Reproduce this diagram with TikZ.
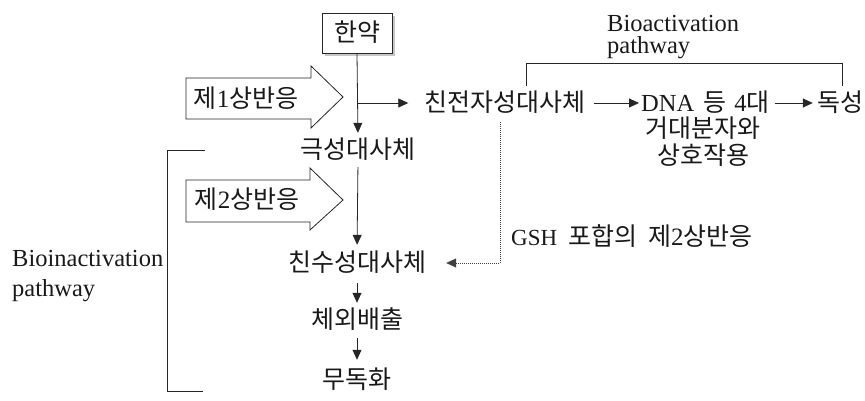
\documentclass[tikz,border=0pt]{standalone}
\usepackage{fontspec}
\setmainfont{Liberation Serif}
\newfontfamily\kr{Noto Sans CJK KR}
\newfontfamily\lat{Liberation Serif}
\newcommand\latb{\lat\fontsize{24.5}{26}\selectfont}
\usetikzlibrary{arrows.meta,shadows}
\tikzset{
  ln/.style={draw=black!85, line width=0.8pt},
  arr/.style={ln, -{Triangle[length=10pt,width=9pt]}},
  dotarr/.style={draw=black!75, line width=0.8pt, dash pattern=on 0.8pt off 1.2pt, -{Triangle[length=10pt,width=9pt]}},
  kt/.style={font=\kr\fontsize{25}{28}\selectfont, inner sep=0pt, text height=19pt, text depth=2pt, text=black!90},
  lt/.style={inner sep=0pt, align=left, anchor=north west, text=black!90},
  blockarrow/.style={draw=black!85, line width=0.8pt, fill=white},
  boxst/.style={draw=black!85, line width=0.8pt, fill=white, minimum width=70pt, minimum height=40pt, inner sep=0pt,
    drop shadow={shadow xshift=3pt, shadow yshift=-3pt, fill=black!22, opacity=1}},
}
\begin{document}
\begin{tikzpicture}[x=1pt,y=-1pt]
\useasboundingbox (0,0) rectangle (865,401);

% block arrows
\draw[blockarrow] (186,78) -- (311,78) -- (311,66) -- (343,97) -- (311,128) -- (311,119) -- (186,119) -- cycle;
\node[kt] (ph1) at (246,99) {제{\lat 1}상반응};
\draw[blockarrow] (186,180) -- (310,180) -- (310,168) -- (343,200) -- (310,230) -- (310,222) -- (186,222) -- cycle;
\node[kt] (ph2) at (247,200) {제{\lat 2}상반응};

% nodes
\node[boxst, kt] (hanyak) at (357,33) {한약};
\node[kt] (pol) at (358,150) {극성대사체};
\node[kt] (elec) at (505,103) {친전자성대사체};
\node[kt, anchor=west] (dna) at (641,103) {{\latb DNA}\hspace{9pt}등\hspace{8pt}{\latb 4}대};
\node[kt] (macro) at (703,129) {거대분자와};
\node[kt] (inter) at (703,156) {상호작용};
\node[kt] (tox) at (840,103) {독성};
\node[kt] (hyd) at (357,263) {친수성대사체};
\node[kt] (exc) at (357,320) {체외배출};
\node[kt] (detox) at (357,380) {무독화};
\node[kt, anchor=west] (gsh) at (511,237) {{\lat\fontsize{23}{26}\selectfont GSH}\hspace{11pt}포합의\hspace{11pt}제{\lat 2}상반응};

\node[lt, font=\lat\fontsize{24.5}{22}\selectfont] (bioact) at (607,15.5) {Bioactivation\\pathway};
\node[lt, font=\lat\fontsize{24.5}{30}\selectfont] (bioinact) at (12,250.5) {Bioinactivation\\pathway};

% connectors
\coordinate (br) at (357,103);
\coordinate (dtop) at (500,122);
\draw[arr, shorten >=6.5pt] (hanyak.south) -- (pol.north);
\draw[arr, shorten >=16pt] (br) -- (elec.west);
\draw[arr, shorten <=8pt, shorten >=2pt] (elec.east) -- (dna.west);
\draw[arr, shorten <=5pt, shorten >=4pt] (dna.east) -- (tox.west);
\draw[arr, shorten <=6.5pt, shorten >=7.5pt] (pol.south) -- (hyd.north);
\draw[arr, shorten <=9.5pt, shorten >=6.5pt] (hyd.south) -- (exc.north);
\draw[arr, shorten <=7.5pt, shorten >=9.5pt] (exc.south) -- (detox.north);
\draw[dotarr, shorten >=20pt] (dtop) |- (hyd.east);

% brackets
\draw[ln] (526,86) -- (526,63) -- (842,63) -- (842,86);
\draw[ln] (205,150) -- (167,150) -- (167,391) -- (203,391);
\end{tikzpicture}
\end{document}
